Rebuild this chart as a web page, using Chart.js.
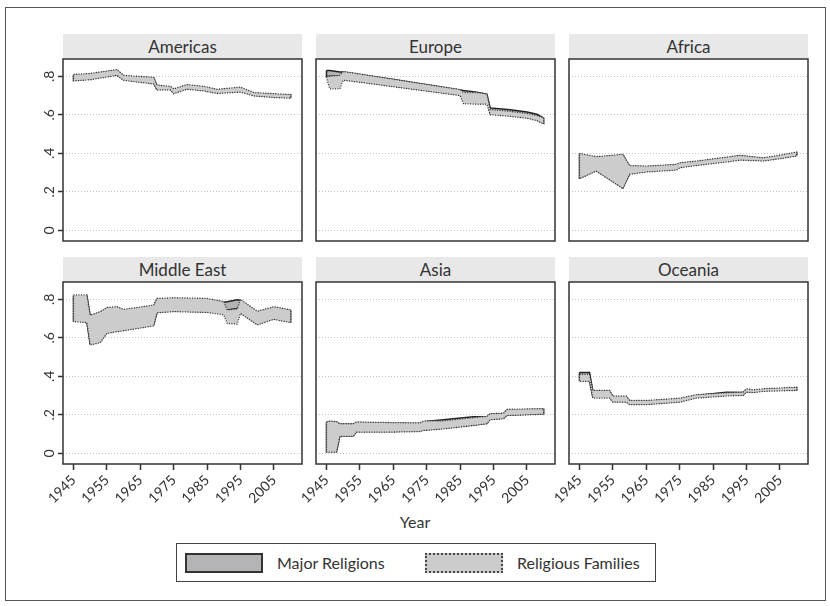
<!DOCTYPE html>
<html>
<head>
<meta charset="utf-8">
<script src="https://cdn.jsdelivr.net/npm/chart.js@4"></script>
<style>
  body { margin: 0; background: #fff; font-family: Lato, "Open Sans", sans-serif; color: #333; }
  #page { position: relative; width: 830px; height: 606px; overflow: hidden; background: #fff; }
  #frame { position: absolute; left: 5px; top: 7px; width: 821px; height: 594px; border: 1px solid #555; box-sizing: border-box; }
  .strip { position: absolute; width: 239px; height: 25px; background: #e8e8e8; text-align: center; line-height: 25px; font-size: 17px; color: #333; }
  canvas.panel { position: absolute; }
  #xtitle { position: absolute; left: 365px; width: 100px; top: 512px; text-align: center; font-size: 16px; }
  #legend { position: absolute; left: 176px; top: 543px; width: 480px; height: 39px; border: 1px solid #444; box-sizing: border-box; }
  .sw { position: absolute; top: 9px; width: 78px; height: 20px; box-sizing: border-box; }
  .sw.major { left: 8px; background: #b4b4b6; border: 2px solid #333; }
  .sw.fam { left: 248px; background: #cccccc; border: 2px dotted #444; }
  .lt { position: absolute; top: 8px; font-size: 16px; line-height: 22px; }
</style>
</head>
<body>
<div id="page">
  <div id="frame"></div>
  <div id="xtitle">Year</div>
  <div id="legend">
    <div class="sw major"></div><div class="lt" style="left:100px">Major Religions</div>
    <div class="sw fam"></div><div class="lt" style="left:340px">Religious Families</div>
  </div>
</div>
<script>
'use strict';

// axis ticks
let xTicks = [1945, 1955, 1965, 1975, 1985, 1995, 2005];
let yTicks = [0, 0.2, 0.4, 0.6, 0.8];
let yTickLabels = ['0', '.2', '.4', '.6', '.8'];

// Americas
let amYears = [1945, 1950, 1958, 1960, 1969, 1970, 1974, 1975, 1979, 1984, 1988, 1995, 1999, 2005, 2010];
let amFamHi = [0.810, 0.815, 0.835, 0.805, 0.795, 0.755, 0.748, 0.735, 0.757, 0.748, 0.733, 0.744, 0.716, 0.710, 0.706];
let amFamLo = [0.776, 0.782, 0.805, 0.779, 0.760, 0.729, 0.729, 0.710, 0.733, 0.724, 0.711, 0.718, 0.698, 0.690, 0.686];
let amMajHi = [0.806, 0.811, 0.831, 0.801, 0.791, 0.751, 0.744, 0.731, 0.753, 0.744, 0.729, 0.740, 0.712, 0.706, 0.702];
let amMajLo = [0.780, 0.786, 0.809, 0.783, 0.764, 0.733, 0.733, 0.714, 0.737, 0.728, 0.715, 0.722, 0.702, 0.694, 0.690];

// Europe
let euYears = [1945, 1946, 1949, 1950, 1955, 1965, 1975, 1985, 1986, 1990, 1993, 1994, 2000, 2005, 2008, 2010];
let euFamHi = [0.800, 0.800, 0.805, 0.825, 0.812, 0.785, 0.758, 0.731, 0.716, 0.716, 0.708, 0.628, 0.618, 0.607, 0.596, 0.585];
let euFamLo = [0.790, 0.735, 0.735, 0.780, 0.769, 0.746, 0.723, 0.700, 0.658, 0.655, 0.655, 0.601, 0.592, 0.582, 0.570, 0.552];
let euMajHi = [0.830, 0.830, 0.822, 0.823, 0.810, 0.783, 0.756, 0.729, 0.726, 0.718, 0.707, 0.636, 0.626, 0.615, 0.603, 0.583];
let euMajLo = [0.800, 0.800, 0.803, 0.784, 0.773, 0.750, 0.727, 0.704, 0.690, 0.690, 0.685, 0.605, 0.596, 0.586, 0.574, 0.556];

// Africa
let afYears = [1945, 1950, 1958, 1960, 1965, 1974, 1975, 1980, 1990, 1993, 2000, 2005, 2010];
let afFamHi = [0.400, 0.383, 0.395, 0.337, 0.334, 0.343, 0.351, 0.360, 0.383, 0.390, 0.377, 0.391, 0.407];
let afFamLo = [0.268, 0.308, 0.217, 0.291, 0.303, 0.313, 0.325, 0.337, 0.357, 0.365, 0.360, 0.372, 0.386];
let afMajHi = [0.396, 0.379, 0.391, 0.333, 0.330, 0.339, 0.347, 0.356, 0.379, 0.387, 0.373, 0.387, 0.403];
let afMajLo = [0.272, 0.312, 0.221, 0.295, 0.307, 0.317, 0.329, 0.341, 0.361, 0.369, 0.364, 0.376, 0.390];

// Middle East
let meYears = [1945, 1949, 1950, 1953, 1955, 1958, 1960, 1969, 1970, 1975, 1985, 1990, 1991, 1994, 1995, 2000, 2005, 2010];
let meFamHi = [0.823, 0.823, 0.718, 0.736, 0.758, 0.762, 0.748, 0.770, 0.805, 0.808, 0.805, 0.788, 0.745, 0.750, 0.800, 0.738, 0.762, 0.745];
let meFamLo = [0.684, 0.679, 0.563, 0.575, 0.623, 0.632, 0.637, 0.662, 0.730, 0.736, 0.732, 0.719, 0.675, 0.671, 0.727, 0.667, 0.696, 0.679];
let meMajHi = [0.819, 0.819, 0.714, 0.732, 0.754, 0.758, 0.744, 0.766, 0.801, 0.804, 0.801, 0.785, 0.788, 0.798, 0.796, 0.734, 0.758, 0.741];
let meMajLo = [0.688, 0.683, 0.567, 0.579, 0.627, 0.636, 0.641, 0.666, 0.734, 0.740, 0.736, 0.740, 0.745, 0.752, 0.731, 0.671, 0.700, 0.683];

// Asia
let asYears = [1945, 1946, 1948, 1949, 1953, 1954, 1965, 1973, 1974, 1980, 1989, 1993, 1994, 1998, 1999, 2010];
let asFamHi = [0.163, 0.168, 0.165, 0.154, 0.154, 0.163, 0.160, 0.158, 0.168, 0.169, 0.186, 0.192, 0.206, 0.209, 0.229, 0.232];
let asFamLo = [0.007, 0.007, 0.007, 0.088, 0.088, 0.111, 0.111, 0.113, 0.119, 0.127, 0.145, 0.154, 0.175, 0.180, 0.197, 0.203];
let asMajHi = [0.160, 0.165, 0.162, 0.151, 0.151, 0.160, 0.157, 0.155, 0.165, 0.175, 0.190, 0.189, 0.203, 0.206, 0.226, 0.229];
let asMajLo = [0.010, 0.010, 0.010, 0.091, 0.091, 0.114, 0.114, 0.116, 0.122, 0.130, 0.148, 0.157, 0.178, 0.183, 0.200, 0.206];

// Oceania
let ocYears = [1945, 1948, 1949, 1954, 1955, 1959, 1960, 1965, 1975, 1980, 1989, 1994, 1995, 1997, 2000, 2010];
let ocFamHi = [0.410, 0.410, 0.327, 0.327, 0.298, 0.298, 0.275, 0.275, 0.287, 0.305, 0.315, 0.318, 0.336, 0.330, 0.336, 0.344];
let ocFamLo = [0.374, 0.374, 0.287, 0.287, 0.266, 0.266, 0.253, 0.253, 0.266, 0.287, 0.298, 0.301, 0.318, 0.315, 0.322, 0.327];
let ocMajHi = [0.420, 0.420, 0.323, 0.323, 0.294, 0.294, 0.271, 0.271, 0.283, 0.301, 0.317, 0.316, 0.332, 0.326, 0.332, 0.340];
let ocMajLo = [0.378, 0.378, 0.291, 0.291, 0.270, 0.270, 0.257, 0.257, 0.270, 0.291, 0.302, 0.305, 0.322, 0.319, 0.326, 0.331];

let panels = [
  {name: 'Americas', row: 0, col: 0, years: amYears, majHi: amMajHi, majLo: amMajLo, famHi: amFamHi, famLo: amFamLo},
  {name: 'Europe', row: 0, col: 1, years: euYears, majHi: euMajHi, majLo: euMajLo, famHi: euFamHi, famLo: euFamLo},
  {name: 'Africa', row: 0, col: 2, years: afYears, majHi: afMajHi, majLo: afMajLo, famHi: afFamHi, famLo: afFamLo},
  {name: 'Middle East', row: 1, col: 0, years: meYears, majHi: meMajHi, majLo: meMajLo, famHi: meFamHi, famLo: meFamLo},
  {name: 'Asia', row: 1, col: 1, years: asYears, majHi: asMajHi, majLo: asMajLo, famHi: asFamHi, famLo: asFamLo},
  {name: 'Oceania', row: 1, col: 2, years: ocYears, majHi: ocMajHi, majLo: ocMajLo, famHi: ocFamHi, famLo: ocFamLo}
];

// layout of the plot areas
let plotLeft = [63, 316, 569];
let plotTop = [59, 282];
let plotW = 239;
let plotH = 182;
let axW = 50;
let axH = 60;
let padTop = 15;
let padRight = 10;

let page = document.getElementById('page');

// band outline: upper edge forward, lower edge back
function bandPoints(years, hi, lo) {
  let pts = [];
  for (let i = 0; i < years.length; i++) {
    pts.push({x: years[i], y: hi[i]});
  }
  for (let i = years.length - 1; i >= 0; i--) {
    pts.push({x: years[i], y: lo[i]});
  }
  pts.push({x: years[0], y: hi[0]});
  return pts;
}

let framePlugin = {
  id: 'frame',
  afterDatasetsDraw(chart) {
    let a = chart.chartArea;
    let c = chart.ctx;
    c.save();
    c.strokeStyle = '#333';
    c.lineWidth = 1.5;
    c.strokeRect(a.left, a.top, a.right - a.left, a.bottom - a.top);
    c.restore();
  }
};

Chart.defaults.font.family = 'Lato, "Open Sans", sans-serif';
Chart.defaults.font.size = 14;
Chart.defaults.color = '#333';

panels.forEach(function (p) {
  let isLeft = p.col === 0;
  let isBottom = p.row === 1;

  let strip = document.createElement('div');
  strip.className = 'strip';
  strip.textContent = p.name;
  strip.style.left = plotLeft[p.col] + 'px';
  strip.style.top = (plotTop[p.row] - 25) + 'px';
  page.appendChild(strip);

  let cv = document.createElement('canvas');
  cv.className = 'panel';
  cv.width = axW + plotW + padRight;
  cv.height = padTop + plotH + axH;
  cv.style.left = (plotLeft[p.col] - axW) + 'px';
  cv.style.top = (plotTop[p.row] - padTop) + 'px';
  page.appendChild(cv);

  // dataset 0 is painted last, so the families band sits on top
  new Chart(cv.getContext('2d'), {
    type: 'line',
    data: {
      datasets: [{
        label: 'Religious Families',
        data: bandPoints(p.years, p.famHi, p.famLo),
        fill: 'shape',
        backgroundColor: '#cccccc',
        borderColor: '#333',
        borderWidth: 1.3,
        borderDash: [1, 1.5],
        pointRadius: 0,
        tension: 0
      }, {
        label: 'Major Religions',
        data: bandPoints(p.years, p.majHi, p.majLo),
        fill: 'shape',
        backgroundColor: '#b4b4b6',
        borderColor: '#222',
        borderWidth: 1.5,
        pointRadius: 0,
        tension: 0
      }]
    },
    options: {
      responsive: false,
      animation: false,
      layout: {padding: {top: padTop, right: padRight, left: 0, bottom: 0}},
      plugins: {legend: {display: false}, tooltip: {enabled: false}},
      scales: {
        x: {
          type: 'linear',
          min: 1941.86,
          max: 2013.4,
          afterBuildTicks: function (s) { s.ticks = xTicks.map(v => ({value: v})); },
          afterFit: function (s) { s.height = axH; },
          grid: {display: isBottom, drawOnChartArea: false, drawTicks: true, tickLength: 6, tickColor: '#333', tickWidth: 1.5},
          border: {display: false},
          ticks: {display: isBottom, autoSkip: false, minRotation: 45, maxRotation: 45, padding: 2,
            callback: function (v) { return String(v); }}
        },
        y: {
          min: -0.055,
          max: 0.89,
          afterBuildTicks: function (s) { s.ticks = yTicks.map(v => ({value: v})); },
          afterFit: function (s) { s.width = axW; },
          grid: {color: '#c4c4c4', lineWidth: 1, drawTicks: isLeft, tickLength: 5, tickColor: '#333', tickWidth: 1.5},
          border: {display: false, dash: [1, 2]},
          ticks: {display: isLeft, minRotation: 90, maxRotation: 90, crossAlign: 'center', padding: 3,
            callback: function (v, i) { return yTickLabels[i]; }}
        }
      }
    },
    plugins: [framePlugin]
  });
});
</script>
</body>
</html>
